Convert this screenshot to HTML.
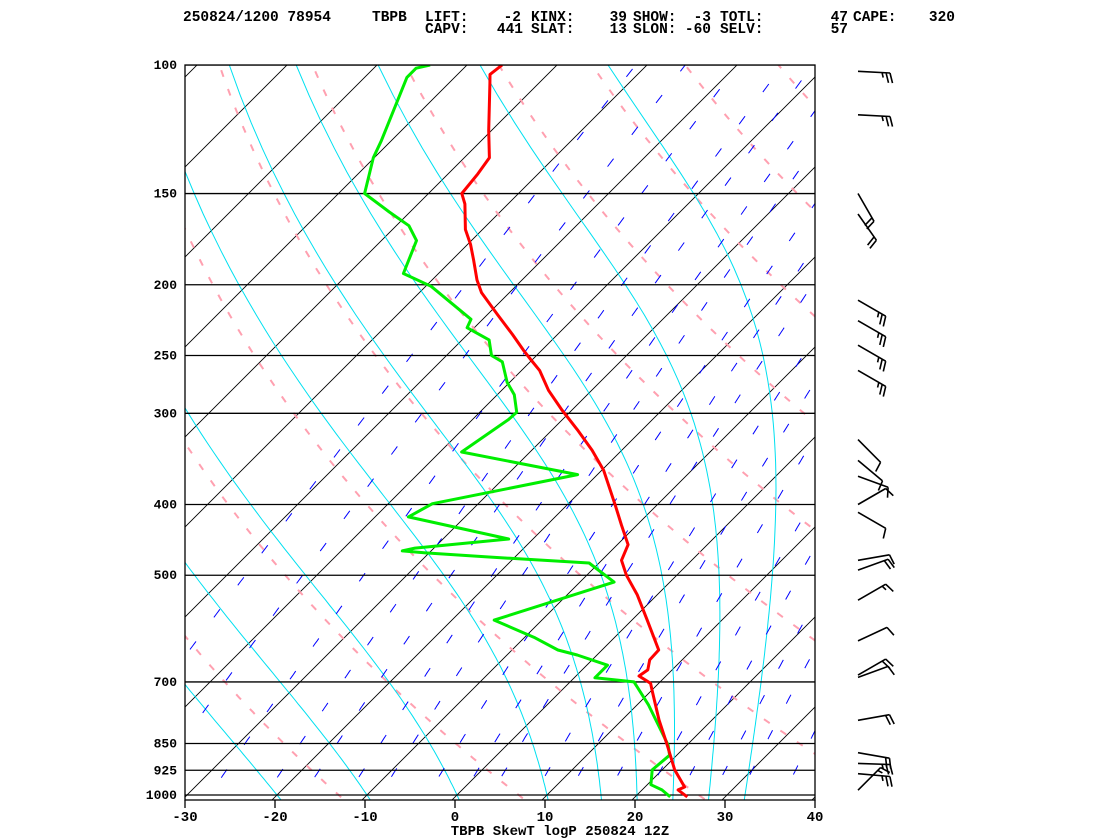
<!DOCTYPE html>
<html><head><meta charset="utf-8"><style>
html,body{margin:0;padding:0;background:#fff;}
svg{display:block;}
text{font-family:"Liberation Mono",monospace;font-weight:bold;fill:#000;}
</style></head><body>
<svg id="chart" width="1120" height="840" viewBox="0 0 1120 840" xmlns="http://www.w3.org/2000/svg">
<g font-size="14.5">
<text x="183" y="21">250824/1200 78954</text>
<text x="372" y="21">TBPB</text>
<text x="425" y="21">LIFT:</text><text x="521" y="21" text-anchor="end">-2</text>
<text x="531" y="21">KINX:</text><text x="627" y="21" text-anchor="end">39</text>
<text x="633" y="21">SHOW:</text><text x="711" y="21" text-anchor="end">-3</text>
<text x="720" y="21">TOTL:</text><text x="848" y="21" text-anchor="end">47</text>
<text x="853" y="21">CAPE:</text><text x="955" y="21" text-anchor="end">320</text>
<text x="425" y="33">CAPV:</text><text x="523" y="33" text-anchor="end">441</text>
<text x="531" y="33">SLAT:</text><text x="627" y="33" text-anchor="end">13</text>
<text x="633" y="33">SLON:</text><text x="711" y="33" text-anchor="end">-60</text>
<text x="720" y="33">SELV:</text><text x="848" y="33" text-anchor="end">57</text>
</g>
<defs><clipPath id="box"><rect x="185" y="65" width="630" height="735"/></clipPath></defs>
<g id="bg" clip-path="url(#box)"></g>
<g id="series" clip-path="url(#box)"></g>
<g id="axes"></g>
<g id="barbs" stroke="#000" stroke-width="1.6" fill="none"></g>
<text x="560" y="835" text-anchor="middle" font-size="14">TBPB SkewT logP 250824 12Z</text>
</svg>
<script>
const pressureLevels=[100,150,200,250,300,400,500,700,850,925,1000];
const tempTicks=[-30,-20,-10,0,10,20,30,40];
const tempP=[1006,984,975,924,854,789,718,703,687,674,653,633,576,532,500,477,454,427,401,359,337,316,297,279,262,254,246,234,220,205,197,185,176,168,155,150,141,134,123,106,103,100];
const tempT=[25.8,24.0,24.4,21.4,17.8,14.1,10.0,9.1,7.0,7.3,6.4,6.3,1.7,-2.2,-5.6,-7.8,-8.8,-11.7,-14.6,-19.8,-23.3,-27.2,-31.1,-34.8,-38.0,-40.0,-42.0,-45.0,-48.8,-53.1,-55.0,-57.6,-59.7,-61.9,-64.8,-66.3,-66.7,-67.2,-70.3,-75.4,-76.4,-76.1];
const dewP=[1006,984,968,924,882,854,753,700,691,664,643,633,609,576,511,481,472,466,463,459,446,416,399,364,339,306,299,283,272,255,250,238,229,223,201,193,174,166,159,150,134,127,104,101,100];
const dewT=[23.9,22.2,20.4,18.9,19.2,17.9,11.3,7.1,2.3,2.3,-2.2,-4.9,-8.8,-15.3,-6.2,-11.1,-22.9,-30.4,-33.2,-32.1,-22.7,-36.3,-35.1,-22.2,-37.6,-36.0,-35.9,-38.1,-40.3,-43.1,-45,-47,-50.8,-51.3,-59.4,-63.9,-66.1,-68.6,-72.3,-77.1,-80.1,-81.1,-85.3,-85.3,-84.1];
const windP=[102,117,150,160,210,224,242,262,326,348,366,400,410,477,492,541,615,685,690,790,875,905,935,985];
const windDir=[93,93,150,145,120,120,120,120,135,130,110,60,120,80,70,60,65,60,70,80,100,92,95,45];
const windSpd=[25,25,20,20,25,25,25,25,10,10,10,10,10,10,20,15,10,20,10,20,20,25,25,15];
const dryTheta=[240,260,280,300,320,340,360,380,400,420,440,460,480,500,520];
const moistStart=[-20,-10,0,10,16,20,24,28,32];
const mixRatios=[0.1,0.2,0.4,0.7,1,1.5,2,3,4,5,7,9,12,16,20,25,30,40];

const NS='http://www.w3.org/2000/svg';
const X0=455,DX=9,Y0=797,YT=65,YB=795;
function yP(p){return YT+(YB-YT)*Math.log(p/100)/Math.log(10);}
function xT(t,p){return X0+DX*t+(Y0-yP(p));}
function mk(parent,tag,attrs){const e=document.createElementNS(NS,tag);for(const k in attrs)e.setAttribute(k,attrs[k]);parent.appendChild(e);return e;}
function pathFrom(ps,ts){return ps.map((p,i)=>(i?'L':'M')+xT(ts[i],p).toFixed(1)+','+yP(p).toFixed(1)).join('');}
const bg=document.getElementById('bg'),series=document.getElementById('series'),axes=document.getElementById('axes'),barbs=document.getElementById('barbs');
const plevs=[];for(let p=1050;p>=95;p-=5)plevs.push(p);

for(let t=-120;t<=40;t+=10){
 const l=mk(bg,'line',{x1:xT(t,1050),y1:yP(1050),x2:xT(t,95),y2:yP(95),stroke:'#000','stroke-width':0.9});
 
 
}
dryTheta.forEach(th=>{
 const ts=plevs.map(p=>th*Math.pow(p/1000,0.286)-273.15);
 const e=mk(bg,'path',{d:pathFrom(plevs,ts),stroke:'#ffa0b0','stroke-width':2,fill:'none','stroke-dasharray':'7,13'});
 
 
});
function es(t){return 6.112*Math.exp(17.67*t/(t+243.5));}
function rate(T,p){const rs=0.622*es(T-273.15)/(p-es(T-273.15));return (287*T+2.5e6*rs)/(1004+2.5e6*2.5e6*rs*0.622/(287*T*T))/p;}
moistStart.forEach(t0=>{
 const pts=[];
 let Tb=t0+273.15,pb=1000;while(pb<1050){Tb+=rate(Tb,pb)*5;pb+=5;}
 pts.push([1050,Tb-273.15]);
 let T=t0+273.15,p=1000;pts.push([p,T-273.15]);
 while(p>95){T-=rate(T,p)*2;p-=2;if(Math.round(p)%10===0)pts.push([p,T-273.15]);}
 const e=mk(bg,'path',{d:pathFrom(pts.map(a=>a[0]),pts.map(a=>a[1])),stroke:'#00e0f0','stroke-width':1,fill:'none'});
 
 
});
mixRatios.forEach(w=>{
 const ts=plevs.map(p=>{const e=w*p/(622+w);const L=Math.log(e/6.112);return 243.5*L/(17.67-L);});
 const e=mk(bg,'path',{d:pathFrom(plevs,ts),stroke:'#0000ff','stroke-width':1,fill:'none','stroke-dasharray':'10,30'});
 
 
});
pressureLevels.forEach(p=>{
 const l=mk(bg,'line',{x1:185,x2:815,y1:yP(p),y2:yP(p),stroke:'#000','stroke-width':1.3});
 
 
 const t=mk(axes,'text',{x:177,y:yP(p)+4,'text-anchor':'end','font-size':13});
 t.textContent=p;
 
 
});
const dl=mk(series,'path',{d:pathFrom(dewP,dewT),stroke:'#00ee00','stroke-width':3,fill:'none','stroke-linejoin':'round'});


const tl=mk(series,'path',{d:pathFrom(tempP,tempT),stroke:'#ff0000','stroke-width':3,fill:'none','stroke-linejoin':'round'});


const fr=mk(axes,'rect',{x:185,y:65,width:630,height:735,fill:'none',stroke:'#000','stroke-width':1.3});


tempTicks.forEach(t=>{
 const x=X0+DX*t;
 const tk=mk(axes,'line',{x1:x,x2:x,y1:800,y2:808,stroke:'#000','stroke-width':1.3});
 
 
 const tx=mk(axes,'text',{x:x,y:821,'text-anchor':'middle','font-size':14});
 tx.textContent=t;
 
 
});
windP.forEach((p,i)=>{
 const y=yP(p),x=858,L=32,a=windDir[i]*Math.PI/180;
 const ux=Math.sin(a),uy=-Math.cos(a);
 const px=-uy,py=ux;
 let d='M'+x+','+y.toFixed(1)+'L'+(x+L*ux).toFixed(1)+','+(y+L*uy).toFixed(1);
 let s=windSpd[i],pos=L;
 while(s>=10){const bx=x+pos*ux,by=y+pos*uy;d+='M'+bx.toFixed(1)+','+by.toFixed(1)+'l'+(10*px+3*ux).toFixed(1)+','+(10*py+3*uy).toFixed(1);pos-=4;s-=10;}
 if(s>=5){const bx=x+pos*ux,by=y+pos*uy;d+='M'+bx.toFixed(1)+','+by.toFixed(1)+'l'+(5*px+1.5*ux).toFixed(1)+','+(5*py+1.5*uy).toFixed(1);}
 const b=mk(barbs,'path',{d:d});
 
 
});
</script>
</body></html>
